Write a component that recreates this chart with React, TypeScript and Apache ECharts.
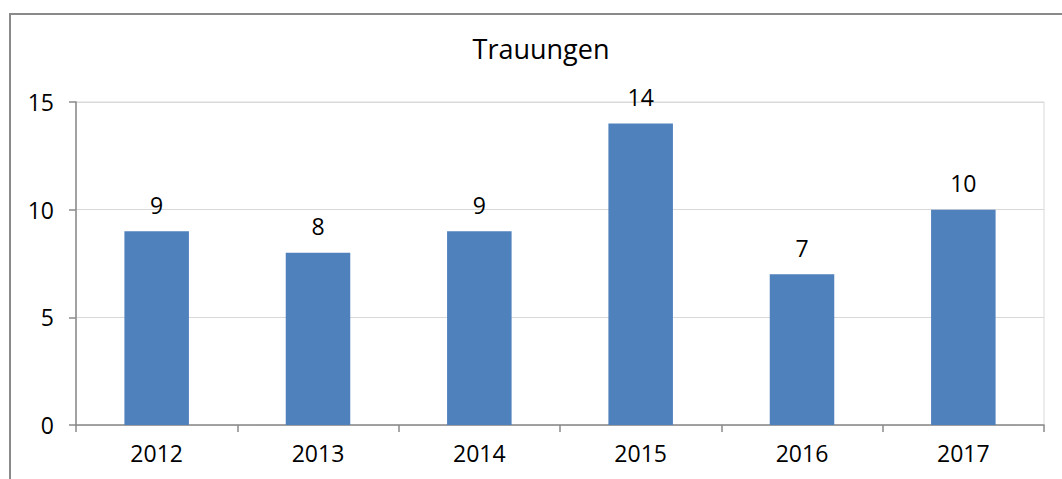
import React, { useEffect, useRef } from "react";
import * as echarts from "echarts";

const title = "Trauungen";
const years = ["2012", "2013", "2014", "2015", "2016", "2017"];
const values = [9, 8, 9, 14, 7, 10];
const yTicks = { min: 0, max: 15, interval: 5 };

export default function App() {
  const ref = useRef<HTMLDivElement>(null);
  useEffect(() => {
    const chart = echarts.init(ref.current!, undefined, { renderer: "svg" });
    const font = "'Open Sans', 'Noto Sans', sans-serif";
    chart.setOption({
      animation: false,
      textStyle: { fontFamily: font },
      title: {
        text: title,
        left: 536,
        textAlign: "center",
        top: 30,
        textStyle: { fontSize: 27, fontWeight: "normal", color: "#000", fontFamily: font },
      },
      graphic: [
        {
          type: "polyline",
          shape: { points: [[10, 479], [10, 14], [1062, 14]] },
          style: { stroke: "#8a8a8a", lineWidth: 2, fill: "none" },
          silent: true,
        },
      ],
      grid: {
        left: 76,
        top: 102,
        right: 18,
        bottom: 54,
        show: true,
        borderColor: "#d9d9d9",
        borderWidth: 1,
        containLabel: false,
      },
      xAxis: {
        type: "category",
        data: years,
        axisLine: { lineStyle: { color: "#8a8a8a", width: 1.5 } },
        axisTick: { show: true, length: 7, lineStyle: { color: "#8a8a8a", width: 1.5 } },
        axisLabel: { color: "#000", fontSize: 23, margin: 16, fontFamily: font },
      },
      yAxis: {
        type: "value",
        min: yTicks.min,
        max: yTicks.max,
        interval: yTicks.interval,
        axisLine: { show: true, lineStyle: { color: "#8a8a8a", width: 1.5 } },
        axisTick: { show: true, length: 7, lineStyle: { color: "#8a8a8a", width: 1.5 } },
        axisLabel: { color: "#000", fontSize: 23, margin: 22, fontFamily: font },
        splitLine: { lineStyle: { color: "#d9d9d9", width: 1 } },
      },
      series: [
        {
          type: "bar",
          data: values,
          barWidth: "40%",
          itemStyle: { color: "#4f81bd" },
          label: {
            show: true,
            position: "top",
            distance: 15,
            color: "#000",
            fontSize: 23,
            fontFamily: font,
          },
        },
      ],
    });
    return () => chart.dispose();
  }, []);
  return (
    <div
      ref={ref}
      style={{ position: "absolute", left: 0, top: 0, width: 1062, height: 479, background: "#fff" }}
    />
  );
}
